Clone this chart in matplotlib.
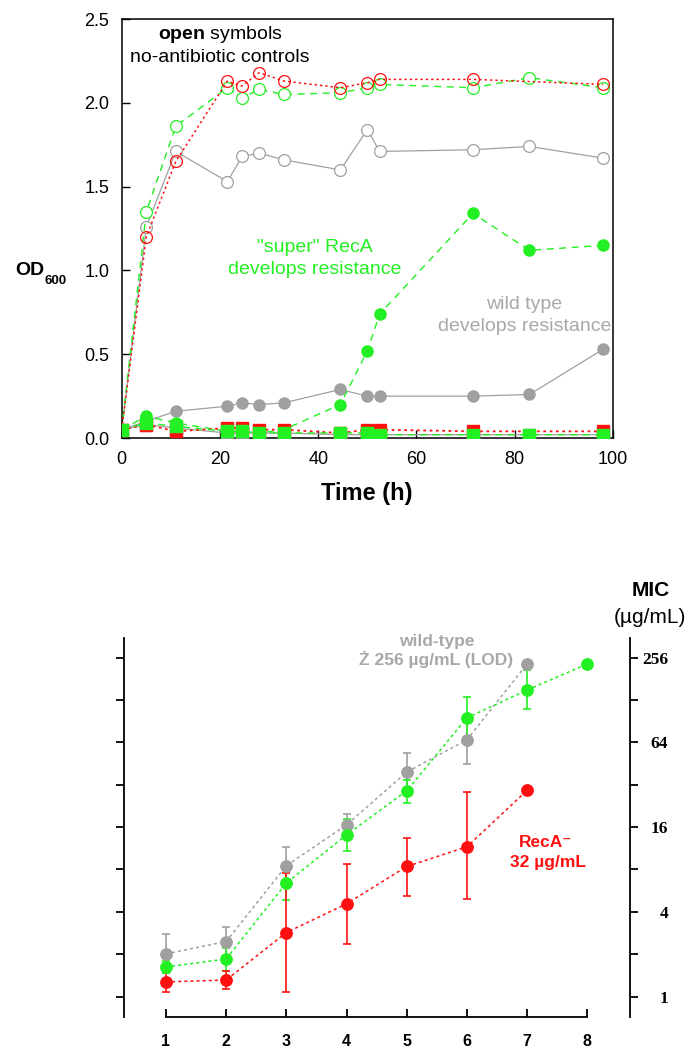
import numpy as np
import matplotlib
matplotlib.use("Agg")
import matplotlib.pyplot as plt
from matplotlib.ticker import FixedLocator, FixedFormatter, NullLocator

plt.rcParams['font.family'] = ['Liberation Sans', 'DejaVu Sans']
plt.rcParams['mathtext.fontset'] = 'custom'
plt.rcParams['mathtext.rm'] = 'Liberation Sans'
plt.rcParams['mathtext.bf'] = 'Liberation Sans:bold'

GREEN = '#22f022'
RED = '#ff1010'
GRAY = '#a0a0a0'
TGRAY = '#a8a8a8'

# ---------------- top panel: OD600 vs time ----------------
t_all = [0, 5, 11, 21.5, 24.5, 28, 33, 44.5, 50, 52.5, 71.5, 83, 98]
t_red = [0, 5, 11, 21.5, 24.5, 28, 33, 44.5, 50, 52.5, 71.5, 98]

# open symbols: no-antibiotic controls
red_open = [0.05, 1.20, 1.65, 2.13, 2.10, 2.18, 2.13, 2.09, 2.12, 2.14, 2.14, 2.11]
green_open = [0.05, 1.35, 1.86, 2.09, 2.03, 2.08, 2.05, 2.06, 2.09, 2.11, 2.09, 2.15, 2.09]
gray_open = [0.05, 1.26, 1.71, 1.53, 1.68, 1.70, 1.66, 1.60, 1.84, 1.71, 1.72, 1.74, 1.67]

# filled circles: with antibiotic
gray_fill = [0.05, 0.10, 0.16, 0.19, 0.21, 0.20, 0.21, 0.29, 0.25, 0.25, 0.25, 0.26, 0.53]
green_fill = [0.05, 0.13, 0.09, 0.04, 0.04, 0.03, 0.05, 0.20, 0.52, 0.74, 1.34, 1.12, 1.15]

# filled squares near zero
gray_sq = [0.05, 0.08, 0.06, 0.03, 0.03, 0.03, 0.03, 0.02, 0.02, 0.02, 0.02, 0.02, 0.02]
red_sq = [0.05, 0.08, 0.04, 0.06, 0.06, 0.05, 0.05, 0.03, 0.05, 0.05, 0.04, 0.04]
green_sq = [0.05, 0.09, 0.07, 0.04, 0.04, 0.03, 0.03, 0.03, 0.03, 0.02, 0.02, 0.02, 0.02]

# ---------------- bottom panel: MIC vs day ----------------
day_gray = [1, 2, 3, 4, 5, 6, 7]
mic_gray = [2.01, 2.46, 8.51, 16.6, 39.4, 66.8, 231]
mic_gray_lo = [1.46, 1.93, 6.23, 13.8, 28.6, 45.3, 231]
mic_gray_hi = [2.77, 3.14, 11.6, 19.8, 54.2, 98.4, 231]

day_green = [1, 2, 3, 4, 5, 6, 7, 8]
mic_green = [1.62, 1.85, 6.41, 14.1, 29.0, 95.7, 151, 231]
mic_green_lo = [1.46, 1.52, 4.86, 10.9, 23.8, 68.1, 111, 231]
mic_green_hi = [1.80, 2.22, 8.46, 18.3, 34.8, 134, 209, 231]

day_red = [1, 2, 3, 4, 5, 6, 7]
mic_red = [1.27, 1.31, 2.85, 4.56, 8.40, 11.6, 29.2]
mic_red_lo = [1.07, 1.14, 1.07, 2.36, 5.21, 4.92, 29.2]
mic_red_hi = [1.52, 1.53, 7.52, 8.82, 13.45, 28.4, 29.2]

mic_ticks = [1, 2, 4, 8, 16, 32, 64, 128, 256]
mic_labels = ['1', '', '4', '', '16', '', '64', '', '256']

fig = plt.figure(figsize=(6.85, 10.51), dpi=100)

# ---- top ----
ax = fig.add_axes([0.1777, 0.5832, 0.7172, 0.3987])
ax.plot(t_all, gray_open, '-', color=GRAY, lw=0.9, marker='o', ms=8.5,
        mfc='white', mec=GRAY, mew=0.9, zorder=2)
ax.plot(t_all, green_open, color=GREEN, lw=1.0, ls=(0, (5, 4)), marker='o', ms=8.5,
        mfc='white', mec=GREEN, mew=0.9, zorder=3)
ax.plot(t_red, red_open, color=RED, lw=1.1, ls=(0, (1.5, 2)), marker='o', ms=8.5,
        mfc='none', mec=RED, mew=0.9, zorder=4)

ax.plot(t_all, gray_fill, '-', color=GRAY, lw=0.9, marker='o', ms=8,
        mfc=GRAY, mec=GRAY, zorder=5)
ax.plot(t_all, green_fill, color=GREEN, lw=1.0, ls=(0, (5, 4)), marker='o', ms=8,
        mfc=GREEN, mec=GREEN, zorder=5)

ax.plot(t_all, gray_sq, '-', color=GRAY, lw=0.9, marker='s', ms=8,
        mfc=GRAY, mec=GRAY, zorder=6)
ax.plot(t_red, red_sq, color=RED, lw=1.3, ls=(0, (1.5, 2)), marker='s', ms=8,
        mfc=RED, mec=RED, zorder=7)
ax.plot(t_all, green_sq, color=GREEN, lw=1.0, ls=(0, (5, 4)), marker='s', ms=8,
        mfc=GREEN, mec=GREEN, zorder=8)

ax.set_xlim(0, 100)
ax.set_ylim(0, 2.5)
ax.set_xticks([0, 20, 40, 60, 80, 100])
ax.set_yticks([0, 0.5, 1.0, 1.5, 2.0, 2.5])
ax.set_yticklabels(['0.0', '0.5', '1.0', '1.5', '2.0', '2.5'])
ax.tick_params(direction='in', length=6, width=1, labelsize=13, pad=9,
               top=False, right=False)
for s in ax.spines.values():
    s.set_linewidth(1.1)

ax.text(20.0, 2.405, r'$\mathbf{open}$ symbols', ha='center', va='center', fontsize=14)
ax.text(19.9, 2.273, 'no-antibiotic controls', ha='center', va='center', fontsize=14)
ax.text(39.3, 1.135, '"super" RecA', ha='center', va='center', fontsize=14, color=GREEN)
ax.text(39.3, 1.007, 'develops resistance', ha='center', va='center', fontsize=14, color=GREEN)
ax.text(81.9, 0.794, 'wild type', ha='center', va='center', fontsize=14, color=TGRAY)
ax.text(82.1, 0.664, 'develops resistance', ha='center', va='center', fontsize=14, color=TGRAY)

fig.text(0.022, 0.743, 'OD', fontsize=14, fontweight='bold', ha='left', va='center')
fig.text(0.065, 0.733, '600', fontsize=9.5, fontweight='bold', ha='left', va='center')
fig.text(0.536, 0.530, 'Time (h)', fontsize=17, fontweight='bold', ha='center', va='center')

# ---- bottom ----
bx = fig.add_axes([0.1810, 0.0321, 0.7387, 0.3606])
bx.set_yscale('log', base=2)

def errs(v, lo, hi):
    v = np.array(v)
    return [v - np.array(lo), np.array(hi) - v]

for d, m, lo, hi, c in [(day_gray, mic_gray, mic_gray_lo, mic_gray_hi, GRAY),
                        (day_green, mic_green, mic_green_lo, mic_green_hi, GREEN),
                        (day_red, mic_red, mic_red_lo, mic_red_hi, RED)]:
    bx.errorbar(d, m, yerr=errs(m, lo, hi), fmt='none', ecolor=c, elinewidth=1.2,
                capsize=3, capthick=1.2, zorder=2)
    bx.plot(d, m, color=c, lw=1.1, ls=(0, (2, 2)), marker='o', ms=8.2,
            mfc=c, mec=c, zorder=3)

bx.set_xlim(0.302, 8.71)
bx.set_ylim(2 ** -0.49, 2 ** 8.46)
bx.set_xticks([1, 2, 3, 4, 5, 6, 7, 8])
bx.xaxis.set_minor_locator(NullLocator())
bx.yaxis.set_major_locator(FixedLocator(mic_ticks))
bx.yaxis.set_major_formatter(FixedFormatter(mic_labels))
bx.yaxis.set_minor_locator(NullLocator())
bx.spines['top'].set_visible(False)
bx.spines['bottom'].set_bounds(1, 8)
for s in bx.spines.values():
    s.set_linewidth(1.3)
bx.tick_params(axis='x', direction='in', length=6, width=1.3, pad=12, labelsize=11.5)
for lbl in bx.get_xticklabels():
    lbl.set_fontweight('bold')
bx.tick_params(axis='y', direction='out', length=5.5, width=1.3, left=True, right=True,
               labelleft=False, labelright=True, pad=22)
for tk in bx.yaxis.get_major_ticks():
    tk.label2.set_horizontalalignment('right')
    tk.label2.set_fontfamily(['Liberation Serif', 'DejaVu Serif'])
    tk.label2.set_fontweight('bold')
    tk.label2.set_fontsize(12.5)

bx.text(5.50, 2 ** 8.38, 'wild-type', ha='center', va='center', fontsize=12.5,
        fontweight='bold', color=TGRAY)
bx.text(5.49, 2 ** 7.95, 'Ż 256 µg/mL (LOD)', ha='center', va='center', fontsize=12.5,
        fontweight='bold', color=TGRAY)
bx.text(7.30, 2 ** 3.64, 'RecA⁻', ha='center', va='center', fontsize=12.5,
        fontweight='bold', color=RED)
bx.text(7.35, 2 ** 3.16, '32 µg/mL', ha='center', va='center', fontsize=12.5,
        fontweight='bold', color=RED)

fig.text(0.950, 0.4386, 'MIC', fontsize=15, fontweight='bold', ha='center', va='center')
fig.text(0.949, 0.412, '(µg/mL)', fontsize=15, ha='center', va='center')

fig.savefig('out.png', dpi=100)
